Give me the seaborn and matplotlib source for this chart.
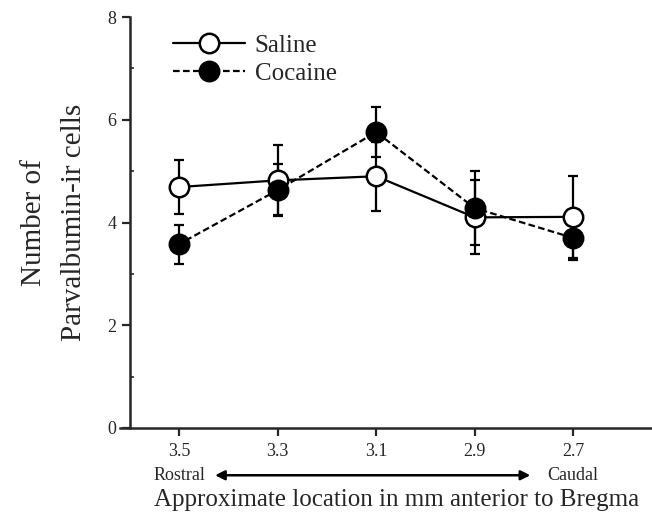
import matplotlib
matplotlib.use("Agg")
import matplotlib.pyplot as plt
import matplotlib.transforms as mtransforms
from matplotlib.ticker import MultipleLocator
import seaborn as sns
import pandas as pd

# data
locations = [3.5, 3.3, 3.1, 2.9, 2.7]
saline_mean = [4.69, 4.82, 4.90, 4.10, 4.11]
saline_err = [0.53, 0.68, 0.67, 0.72, 0.80]
cocaine_mean = [3.58, 4.63, 5.76, 4.28, 3.70]
cocaine_err = [0.38, 0.50, 0.48, 0.72, 0.43]

df = pd.DataFrame({
    "loc": locations * 2,
    "cells": saline_mean + cocaine_mean,
    "group": ["Saline"] * 5 + ["Cocaine"] * 5,
})

sns.set_style("ticks")
plt.rcParams["font.family"] = ["Liberation Serif", "DejaVu Serif"]

fig = plt.figure(figsize=(6.52, 5.15), dpi=100)
ax = fig.add_axes([120 / 652, 87 / 515, 532 / 652, 411 / 515])

# error bars first so markers sit on top
ax.errorbar(locations, saline_mean, yerr=saline_err, fmt="none", ecolor="black",
            elinewidth=1.6, capsize=3.6, capthick=1.6, zorder=2)
ax.errorbar(locations, cocaine_mean, yerr=cocaine_err, fmt="none", ecolor="black",
            elinewidth=1.6, capsize=3.6, capthick=1.6, zorder=2)

sns.lineplot(data=df[df.group == "Saline"], x="loc", y="cells", ax=ax, color="black",
             linewidth=1.6, marker="o", markersize=14, markerfacecolor="white",
             markeredgecolor="black", markeredgewidth=1.8, label="Saline", zorder=3)
sns.lineplot(data=df[df.group == "Cocaine"], x="loc", y="cells", ax=ax, color="black",
             linewidth=1.6, linestyle=(0, (3, 1.5)), marker="o", markersize=14,
             markerfacecolor="black", markeredgecolor="black", markeredgewidth=1.8,
             label="Cocaine", zorder=4)

ax.set_xlim(3.62, 2.54)
ax.set_ylim(0, 8)
ax.set_xticks(locations)
ax.set_xticklabels(["3.5", "3.3", "3.1", "2.9", "2.7"], fontsize=13)
ax.yaxis.set_major_locator(MultipleLocator(2))
ax.yaxis.set_minor_locator(MultipleLocator(1))
ax.tick_params(axis="y", which="major", direction="out", length=6, width=1.6, labelsize=13)
ax.tick_params(axis="y", which="minor", direction="in", length=3, width=1.2)
ax.tick_params(axis="x", which="major", direction="out", length=6, width=1.6, labelsize=13, pad=5)

sns.despine(ax=ax)
ax.spines["left"].set_position(("data", 3.60))
ax.spines["left"].set_linewidth(1.8)
ax.spines["bottom"].set_linewidth(1.8)

ax.set_ylabel("Number of\nParvalbumin-ir cells", fontsize=21, linespacing=1.7)
ax.yaxis.set_label_coords(-0.062, 0.5)
ax.set_xlabel("Approximate location in mm anterior to Bregma", fontsize=18)
ax.xaxis.set_label_coords(0.52, -0.148)

# rostral / caudal arrow under the axis
trans = mtransforms.blended_transform_factory(ax.transData, ax.transAxes)
ax.annotate("", xy=(3.427, -0.115), xytext=(2.787, -0.115), xycoords=trans, textcoords=trans,
            arrowprops=dict(arrowstyle="<|-|>", color="black", lw=1.8,
                            mutation_scale=14, shrinkA=0, shrinkB=0), annotation_clip=False)
ax.text(3.5, -0.115, "Rostral", transform=trans, ha="center", va="center", fontsize=13)
ax.text(2.7, -0.115, "Caudal", transform=trans, ha="center", va="center", fontsize=13)

leg = ax.legend(loc="upper left", bbox_to_anchor=(0.058, 1.012), frameon=False, fontsize=18,
                handlelength=2.85, handletextpad=0.4, labelspacing=0.2)

fig.savefig("out.png", dpi=100)
